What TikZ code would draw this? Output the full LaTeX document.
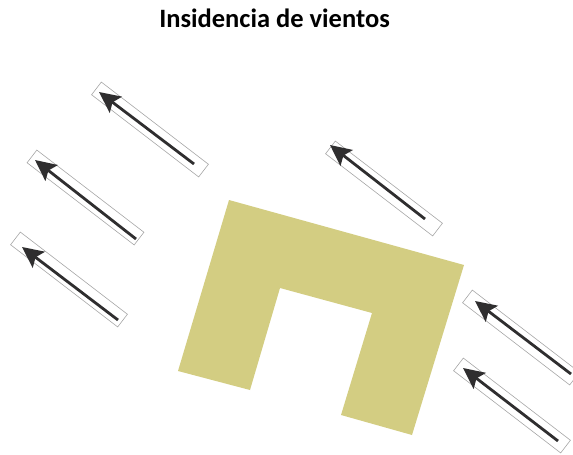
\documentclass[tikz,border=0pt]{standalone}
\usepackage{fontspec}
\setmainfont{Carlito}
\usetikzlibrary{arrows.meta}

\definecolor{building}{HTML}{D3CD82}
\definecolor{windcolor}{HTML}{2F2E2F}

\tikzset{
  windbox/.style={draw=gray!70, line width=0.6pt, rectangle, rotate=-37.5, minimum width=135pt, minimum height=16pt, inner sep=0pt},
  windarrow/.style={draw=windcolor, line width=2.8pt, -{Stealth[length=21pt, width=20pt, inset=4pt, fill=windcolor]}}
}

\begin{document}
\begin{tikzpicture}[x=1pt, y=-1pt]
        \useasboundingbox (0,0) rectangle (573,455);
        \clip (0,0) rectangle (573,455);

        \node[font=\bfseries\fontsize{26.5}{30}\selectfont] (title) at (274.5,18) {Insidencia de vientos};

        \fill[building] (229,200) -- (464,265) -- (412,435) -- (341,415) -- (372,313) -- (280,288) -- (250,390) -- (178,371) -- cycle;

        \node[windbox] (B1) at (150,129.5) {};
        \node[windbox] (B2) at (85.5,197.5) {};
        \node[windbox] (B3) at (69,279.5) {};
        \node[windbox] (B4) at (384,188.5) {};
        \node[windbox] (B5) at (521,337.5) {};
        \node[windbox] (B6) at (512,405.5) {};

        \coordinate (T1) at (194,164);
        \coordinate (H1) at (99,92);
        \coordinate (T2) at (136,239);
        \coordinate (H2) at (35,160);
        \coordinate (T3) at (118,320);
        \coordinate (H3) at (22,247);
        \coordinate (T4) at (425,219);
        \coordinate (H4) at (330,145);
        \coordinate (T5) at (571,374);
        \coordinate (H5) at (475,301);
        \coordinate (T6) at (558,441);
        \coordinate (H6) at (463,368);

        \draw[windarrow] (T1) -- (H1);
        \draw[windarrow] (T2) -- (H2);
        \draw[windarrow] (T3) -- (H3);
        \draw[windarrow] (T4) -- (H4);
        \draw[windarrow] (T5) -- (H5);
        \draw[windarrow] (T6) -- (H6);
\end{tikzpicture}
\end{document}
